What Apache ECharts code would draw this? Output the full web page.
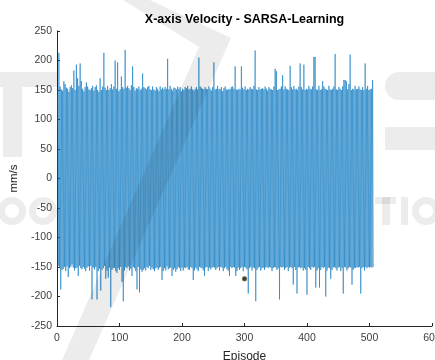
<!DOCTYPE html>
<html><head><meta charset="utf-8">
<script src="https://cdn.jsdelivr.net/npm/echarts@6/dist/echarts.min.js"></script>
<style>html,body{margin:0;padding:0;background:#fff}#c{width:435px;height:360px}</style>
</head><body><div id="c"></div>
<script>
const chartTitle = 'X-axis Velocity - SARSA-Learning';
const xAxisName = 'Episode';
const yAxisName = 'mm/s';
const xRange = [0, 600, 100];
const yRange = [-250, 250, 50];
// X-axis velocity per episode (episodes 1..506)
const velocity = [
150,-148,213,-152,156,-188,151,-155,149,-153,
165,-150,160,-157,154,-149,152,-167,147,-152,
155,-150,158,-146,153,-151,183,-156,150,-152,
193,-151,170,-165,157,-148,195,-152,165,-154,
152,-150,148,-153,155,-157,163,-151,156,-149,
151,-156,150,-148,153,-205,157,-151,149,-154,
155,-150,158,-205,150,-157,147,-153,170,-190,
150,-155,156,-152,213,-148,154,-170,150,-156,
157,-168,150,-151,153,-218,160,-155,151,-152,
156,-151,200,-157,152,-160,197,-152,148,-155,
151,-150,173,-175,155,-208,152,-156,218,-150,
154,-152,157,-149,153,-156,150,-153,158,-165,
190,-150,155,-152,149,-157,153,-188,152,-150,
156,-193,150,-154,152,-158,178,-155,155,-152,
153,-156,151,-150,155,-152,157,-148,151,-155,
150,-151,156,-154,151,-157,149,-152,155,-151,
152,-155,148,-151,156,-150,151,-172,154,-157,
151,-152,155,-156,152,-149,203,-154,151,-152,
157,-151,152,-165,149,-155,154,-152,153,-158,
151,-154,156,-150,152,-152,155,-157,148,-151,
152,-156,150,-151,155,-152,153,-150,157,-154,
151,-155,152,-150,156,-152,151,-172,149,-156,
152,-151,155,-154,151,-157,205,-150,156,-151,
154,-152,152,-156,151,-165,155,-151,152,-150,
151,-157,156,-151,152,-154,149,-151,155,-150,
197,-151,151,-155,152,-152,157,-150,151,-156,
152,-150,155,-151,148,-157,153,-152,156,-150,
151,-154,150,-156,152,-165,151,-150,155,-152,
156,-150,152,-151,190,-165,151,-157,150,-151,
152,-155,151,-152,190,-150,154,-157,151,-150,
156,-151,150,-154,152,-195,151,-152,155,-150,
152,-156,151,-151,157,-152,217,-208,151,-155,
150,-151,155,-150,151,-156,152,-152,153,-151,
151,-155,156,-151,152,-150,149,-152,155,-150,
152,-151,151,-157,150,-152,156,-150,186,-151,
182,-155,150,-152,151,-205,152,-150,156,-151,
175,-150,151,-155,156,-152,152,-150,151,-157,
150,-151,191,-150,155,-152,151,-180,157,-150,
151,-155,152,-195,150,-151,156,-150,195,-152,
155,-151,151,-156,193,-152,150,-155,152,-197,
151,-150,157,-152,152,-155,151,-150,156,-151,
206,-150,206,-185,151,-156,150,-152,157,-185,
150,-155,151,-150,165,-152,156,-150,152,-200,
151,-156,150,-151,157,-152,151,-170,150,-155,
152,-151,156,-150,211,-152,151,-156,150,-151,
155,-150,152,-157,150,-152,156,-195,167,-150,
167,-151,165,-156,151,-152,160,-150,210,-151,
150,-180,152,-155,151,-151,157,-152,151,-150,
152,-151,156,-150,151,-195,150,-152,155,-150,
150,-156,195,-150,152,-152,157,-150,150,-151,
151,-150,152,-151,167,-150
];
const markerPoint = [[300, -170]];

const chart = echarts.init(document.getElementById('c'), null, {renderer: 'canvas'});
const font = 'Liberation Sans, Arial, Helvetica, sans-serif';
const axisColor = '#262626';
const labelColor = '#404040';
const gridLeft = 57, gridRight = 3, gridTop = 31, gridBottom = 34;
const wm = 'rgba(0,0,0,0.075)';
const wmStyle = {fill: wm};
const watermark = [
  {type: 'polygon', shape: {points: [[123,0],[150,0],[231,38],[89,360],[62,360],[199,47]]}},
  {type: 'rect', shape: {x: 0, y: 72, width: 57, height: 15}},
  {type: 'rect', shape: {x: 3, y: 87, width: 19, height: 70}},
  {type: 'rect', shape: {x: 385, y: 72, width: 50, height: 28, r: [14,0,0,14]}},
  {type: 'rect', shape: {x: 385, y: 127, width: 50, height: 23}},
  {type: 'ring', shape: {cx: 12, cy: 211, r: 14, r0: 7}},
  {type: 'ring', shape: {cx: 43, cy: 211, r: 14, r0: 7}},
  {type: 'rect', shape: {x: 375, y: 197, width: 21, height: 7}},
  {type: 'rect', shape: {x: 382, y: 197, width: 8, height: 28}},
  {type: 'rect', shape: {x: 401, y: 197, width: 7, height: 28}},
  {type: 'ring', shape: {cx: 426, cy: 211, r: 14, r0: 7}}
].map(g => Object.assign(g, {style: wmStyle, silent: true, z: 100}));

chart.setOption({
  animation: false,
  backgroundColor: '#ffffff',
  grid: {left: gridLeft, right: gridRight, top: gridTop, bottom: gridBottom, containLabel: false, outerBoundsMode: 'none'},
  graphic: [{
    type: 'text', x: gridLeft + (435 - gridLeft - gridRight) / 2, y: 20,
    style: {text: chartTitle, fontFamily: font, fontWeight: 'bold', fontSize: 12.5, fill: '#000', align: 'center', verticalAlign: 'middle'}
  }].concat(watermark),
  xAxis: {
    type: 'value', min: xRange[0], max: xRange[1], interval: xRange[2],
    name: xAxisName, nameLocation: 'middle', nameGap: 25,
    nameTextStyle: {fontFamily: font, fontSize: 12, color: '#262626'},
    axisLine: {show: true, onZero: false, lineStyle: {color: axisColor, width: 1}},
    axisTick: {show: true, inside: true, length: 3, lineStyle: {color: axisColor}},
    axisLabel: {fontFamily: font, fontSize: 10.5, color: labelColor, margin: 7, showMaxLabel: true},
    splitLine: {show: false}
  },
  yAxis: {
    type: 'value', min: yRange[0], max: yRange[1], interval: yRange[2],
    name: yAxisName, nameLocation: 'middle', nameGap: 29, nameRotate: 90,
    nameTextStyle: {fontFamily: font, fontSize: 11.5, color: '#262626'},
    axisLine: {show: true, onZero: false, lineStyle: {color: axisColor, width: 1}},
    axisTick: {show: true, inside: true, length: 3, lineStyle: {color: axisColor}},
    axisLabel: {fontFamily: font, fontSize: 10.5, color: labelColor, margin: 5},
    splitLine: {show: false}
  },
  series: [{
    type: 'line', data: velocity.map((v, i) => [i + 1, v]),
    showSymbol: false, symbol: 'none',
    lineStyle: {color: '#0072BD', width: 0.55},
    silent: true, z: 2
  }, {
    type: 'scatter', data: markerPoint, symbolSize: 5,
    itemStyle: {color: '#111111', borderColor: '#d8c060', borderWidth: 0.5}, z: 3
  }]
});
</script>
</body></html>
